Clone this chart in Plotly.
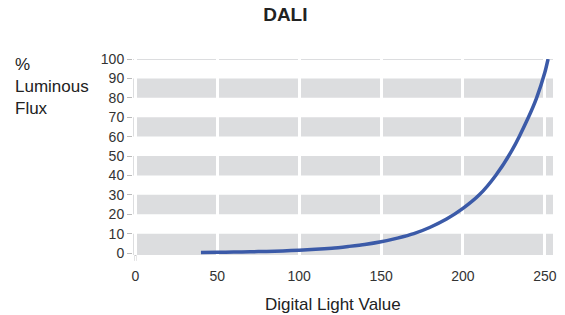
import plotly.graph_objects as go

# Data
light_value = [40, 50, 60, 70, 80, 90, 100, 110, 120, 130, 140, 150, 160, 170,
               180, 190, 200, 210, 220, 230, 240, 245, 250, 252]
luminous_flux = [0.3, 0.4, 0.5, 0.65, 0.85, 1.1, 1.5, 1.9, 2.5, 3.4, 4.4, 5.8,
                 7.7, 10.0, 13.3, 17.5, 23, 30, 40, 53, 70, 80, 93, 100]
x_ticks = [0, 50, 100, 150, 200, 250]
y_ticks = [0, 10, 20, 30, 40, 50, 60, 70, 80, 90, 100]
band_ranges = [(-1, 10), (20, 30), (40, 50), (60, 70), (80, 90)]

BAND = "#dcdddf"
FONT = "Liberation Sans, Arial, sans-serif"

fig = go.Figure()
fig.add_trace(go.Scatter(
    x=light_value, y=luminous_flux, mode="lines",
    line=dict(color="#3b5aa8", width=3.5, shape="spline", smoothing=0.6),
    hoverinfo="skip", showlegend=False,
))

shapes = []
for y0, y1 in band_ranges:
    shapes.append(dict(type="rect", xref="paper", yref="y", x0=0, x1=1,
                       y0=y0, y1=y1, fillcolor=BAND, line_width=0, layer="below"))
shapes.append(dict(type="line", xref="paper", yref="y", x0=0, x1=1, y0=100, y1=100,
                   line=dict(color=BAND, width=2), layer="below"))
shapes.append(dict(type="line", xref="x", yref="paper", x0=0, x1=0, y0=0, y1=-0.03,
                   line=dict(color="#c8c9cb", width=2), layer="below"))
fig.update_layout(shapes=shapes)

fig.update_layout(
    width=565, height=315,
    margin=dict(l=133, r=12, t=59, b=60),
    paper_bgcolor="white", plot_bgcolor="white",
    font=dict(family=FONT, color="#333333", size=14),
    title=dict(text="<b>DALI</b>", x=0.505, xanchor="center", y=0.953, yanchor="middle",
               font=dict(family=FONT, size=19, color="#222222")),
    xaxis=dict(range=[-1.5, 255], tickvals=x_ticks, showgrid=True, gridcolor="white",
               gridwidth=3, zeroline=False, showline=False, ticks="outside",
               ticklen=8, tickcolor="white", tickfont=dict(size=14, color="#333333"),
               automargin=False),
    yaxis=dict(range=[-1, 100], tickvals=y_ticks, showgrid=False, zeroline=False,
               showline=False, ticks="outside", ticklen=5, tickcolor="#bbbbbb",
               tickwidth=1, tickfont=dict(size=14, color="#333333"), automargin=False),
    annotations=[
        dict(text="%<br>Luminous<br>Flux", xref="paper", yref="paper",
             x=-0.285, y=1.03, xanchor="left", yanchor="top", align="left",
             showarrow=False, font=dict(size=17, color="#222222")),
        dict(text="Digital Light Value", xref="paper", yref="paper",
             x=0.476, y=-0.25, xanchor="center", yanchor="middle",
             showarrow=False, font=dict(size=17, color="#222222")),
    ],
)

fig.write_html("out.html", config={"displayModeBar": False},
               post_script="document.body.style.margin='0';document.body.style.padding='0';")
